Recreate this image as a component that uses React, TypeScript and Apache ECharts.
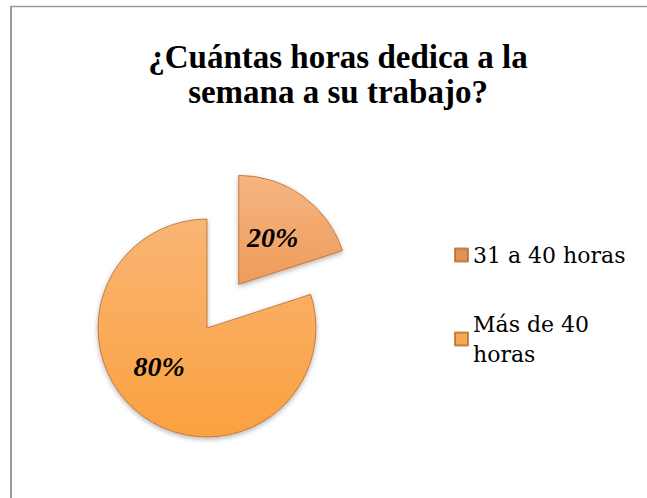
import React, { useEffect, useRef } from "react";
import * as echarts from "echarts";

const titleLines = ["¿Cuántas horas dedica a la", "semana a su trabajo?"];
const categories = ["31 a 40 horas", "Más de 40 horas"];
const legendLabels = ["31 a 40 horas", "Más de 40\nhoras"];
const values = [20, 80];
const sliceTop = ["#F6B582", "#F9B574"];
const sliceBottom = ["#EE9C5A", "#FBA140"];
const legendColors = ["#DF9255", "#F6A955"];

export default function App() {
  const ref = useRef<HTMLDivElement>(null);
  useEffect(() => {
    if (!ref.current) return;
    const chart = echarts.init(ref.current, null, { renderer: "svg" });
    const grad = (i: number) =>
      new echarts.graphic.LinearGradient(0, 0, 0, 1, [
        { offset: 0, color: sliceTop[i] },
        { offset: 1, color: sliceBottom[i] },
      ]);
    const itemStyleFor = (i: number) => ({
      color: grad(i),
      borderColor: "rgba(180,100,40,0.75)",
      borderWidth: 1,
      shadowBlur: 5,
      shadowOffsetY: 2,
      shadowColor: "rgba(0,0,0,0.3)",
    });
    const legendBase = {
      orient: "vertical" as const,
      left: 449,
      icon: "rect",
      itemWidth: 13,
      itemHeight: 13,
      selectedMode: false,
    };
    const legendText = {
      fontFamily: "'DejaVu Serif', serif",
      fontSize: 22,
      lineHeight: 30,
      color: "#000",
    };
    const option: any = {
      animation: false,
      backgroundColor: "#ffffff",
      title: {
        text: titleLines.join("\n"),
        left: 333,
        textAlign: "center",
        top: 34,
        textStyle: {
          fontFamily: "'Liberation Serif', serif",
          fontWeight: "bold",
          fontSize: 33,
          lineHeight: 35,
          color: "#000",
        },
      },
      legend: [
        {
          ...legendBase,
          top: 235,
          data: [{ name: categories[0], itemStyle: { color: legendColors[0] } }],
          formatter: () => legendLabels[0],
          textStyle: legendText,
        },
        {
          ...legendBase,
          top: 289,
          data: [{ name: categories[1], itemStyle: { color: legendColors[1] } }],
          formatter: () => legendLabels[1],
          textStyle: { ...legendText, padding: [30, 0, 0, 0] },
        },
      ],
      graphic: [
        {
          type: "line",
          shape: { x1: 11, y1: 6, x2: 11, y2: 498 },
          style: { stroke: "#9a9a9a", lineWidth: 2 },
          silent: true,
        },
        {
          type: "line",
          shape: { x1: 10, y1: 6.5, x2: 647, y2: 6.5 },
          style: { stroke: "#9a9a9a", lineWidth: 1.5 },
          silent: true,
        },
      ],
      series: [
        {
          type: "pie",
          center: [207, 328],
          radius: 109,
          startAngle: 90,
          clockwise: true,
          selectedMode: "single",
          selectedOffset: 54,
          emphasis: { disabled: true },
          label: {
            show: true,
            position: "inside",
            formatter: "{d}%",
            fontFamily: "'Liberation Serif', serif",
            fontWeight: "bold",
            fontStyle: "italic",
            fontSize: 28,
            color: "#000",
          },
          labelLayout: (p: any) => (p.dataIndex === 1 ? { dx: -14, dy: -8 } : {}),
          labelLine: { show: false },
          data: categories.map((name, i) => ({
            name,
            value: values[i],
            selected: i === 0,
            itemStyle: itemStyleFor(i),
            select: { itemStyle: itemStyleFor(i) },
          })),
        },
      ],
    };
    chart.setOption(option);
    return () => chart.dispose();
  }, []);
  return (
    <div
      ref={ref}
      style={{ position: "fixed", left: 0, top: 0, width: 647, height: 498 }}
    />
  );
}
